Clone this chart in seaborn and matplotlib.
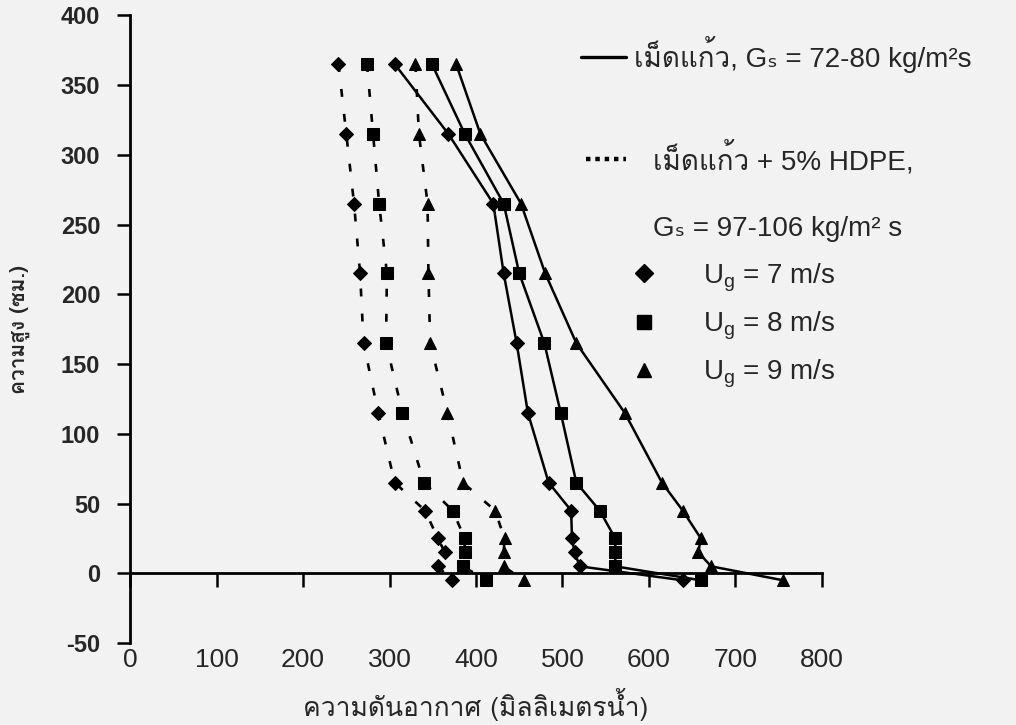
import matplotlib
matplotlib.use("Agg")
import matplotlib.pyplot as plt
from matplotlib import font_manager, ft2font
from matplotlib.lines import Line2D
import seaborn as sns
import pandas as pd

# Heights along the riser (cm) at which the pressure was measured
heights = [365, 315, 265, 215, 165, 115, 65, 45, 25, 15, 5, -5]

# Air pressure (mm water) -- glass beads only
glass_u7 = [306, 368, 420, 432, 447, 460, 484, 510, 511, 514, 520, 639]
glass_u8 = [349, 387, 432, 450, 479, 498, 516, 543, 561, 561, 561, 660]
glass_u9 = [377, 405, 452, 480, 516, 572, 615, 639, 660, 657, 672, 755]

# Air pressure (mm water) -- glass beads + 5% HDPE
hdpe_u7 = [241, 250, 259, 266, 270, 287, 306, 341, 356, 364, 356, 372]
hdpe_u8 = [274, 281, 288, 297, 296, 315, 340, 373, 387, 387, 385, 412]
hdpe_u9 = [330, 334, 344, 345, 347, 367, 385, 422, 433, 432, 432, 455]

x_ticks = [0, 100, 200, 300, 400, 500, 600, 700, 800]
y_ticks = [-50, 0, 50, 100, 150, 200, 250, 300, 350, 400]

x_title = "ความดันอากาศ (มิลลิเมตรน้ำ)"
y_title = "ความสูง (ซม.)"
legend_solid = "เม็ดแก้ว, G\u209b = 72-80 kg/m\u00b2s"
legend_dotted = "เม็ดแก้ว + 5% HDPE,"
legend_dotted_rate = "G\u209b = 97-106 kg/m\u00b2 s"
speed_labels = ["U$_\\mathregular{g}$ = 7 m/s", "U$_\\mathregular{g}$ = 8 m/s",
                "U$_\\mathregular{g}$ = 9 m/s"]


def find_thai_family():
    preferred = []
    others = []
    for f in font_manager.fontManager.ttflist:
        try:
            cmap = ft2font.FT2Font(f.fname).get_charmap()
        except Exception:
            continue
        if 0x0E01 in cmap and 0x0E49 in cmap:
            if "Thai" in f.name or "Loma" in f.name or "Garuda" in f.name:
                preferred.append(f.name)
            else:
                others.append(f.name)
    for name in preferred + others:
        return name
    return "DejaVu Sans"


sns.set_theme(style="white")
thai = find_thai_family()
plt.rcParams["font.family"] = ["Liberation Sans", thai, "DejaVu Sans"]
plt.rcParams["mathtext.fontset"] = "custom"
plt.rcParams["mathtext.rm"] = "Liberation Sans"
plt.rcParams["mathtext.it"] = "Liberation Sans"

rows = []
series = [
    ("glass", "u7", glass_u7), ("glass", "u8", glass_u8), ("glass", "u9", glass_u9),
    ("hdpe", "u7", hdpe_u7), ("hdpe", "u8", hdpe_u8), ("hdpe", "u9", hdpe_u9),
]
for mat, ug, vals in series:
    for h, p in zip(heights, vals):
        rows.append({"material": mat, "ug": ug, "pressure": p, "height": h})
df = pd.DataFrame(rows)

bg = "#f2f2f2"
fig = plt.figure(figsize=(10.16, 7.25), dpi=100, facecolor=bg)
ax = fig.add_axes([0.128, 0.113, 0.681, 0.866])
ax.set_facecolor(bg)

markers = {"u7": "D", "u8": "s", "u9": "^"}
msizes = {"u7": 7.5, "u8": 8, "u9": 8.5}
for (mat, ug), sub in df.groupby(["material", "ug"], sort=False):
    if mat == "glass":
        ls, lw = "-", 1.8
    else:
        ls, lw = (0, (3.0, 6.5)), 1.9
    sns.lineplot(data=sub, x="pressure", y="height", ax=ax, sort=False,
                 estimator=None, color="black", linestyle=ls, linewidth=lw,
                 marker=markers[ug], markersize=msizes[ug],
                 markeredgecolor="black", markerfacecolor="black", legend=False)

# Axis lines cross at the origin; position them before styling the ticks
for side in ("top", "right"):
    ax.spines[side].set_visible(False)
ax.spines["bottom"].set_position(("data", 0))
ax.spines["left"].set_position(("data", 0))
for side in ("bottom", "left"):
    ax.spines[side].set_color("black")
    ax.spines[side].set_linewidth(2.0)

ax.set_xlim(0, 800)
ax.set_ylim(-50, 400)
ax.set_xticks(x_ticks)
ax.set_yticks(y_ticks)
ax.set_xticklabels([str(v) for v in x_ticks], fontsize=19)
ax.set_yticklabels([str(v) for v in y_ticks], fontsize=17, fontweight="bold")

ax.tick_params(axis="x", direction="out", length=10, width=1.8, color="black",
               pad=44, bottom=True)
ax.tick_params(axis="y", direction="out", length=9.5, width=1.8, color="black",
               pad=12, left=True)

ax.set_xlabel(x_title, fontsize=19, family=[thai, "DejaVu Sans"])
ax.set_ylabel(y_title, fontsize=15, fontweight="bold", family=[thai, "DejaVu Sans"])
ax.xaxis.set_label_coords(0.5, -0.072)
ax.yaxis.set_label_coords(-0.145, 0.5)

legend_font = {"family": ["Liberation Sans", thai, "DejaVu Sans"], "size": 20}

leg_solid = ax.legend(
    [Line2D([], [], color="black", linestyle="-", linewidth=2.4)], [legend_solid],
    loc="upper left", bbox_to_anchor=(0.616, 1.007), frameon=False,
    prop=legend_font, handlelength=1.6, handletextpad=0.3)
ax.add_artist(leg_solid)

leg_dotted = ax.legend(
    [Line2D([], [], color="black", linestyle=(0, (1.0, 1.1)), linewidth=3.2),
     Line2D([], [], linestyle="none")],
    [legend_dotted, legend_dotted_rate],
    loc="upper left", bbox_to_anchor=(0.623, 0.840), frameon=False,
    prop=legend_font, handlelength=1.45, handletextpad=0.95, labelspacing=1.46)
ax.add_artist(leg_dotted)

marker_handles = [
    Line2D([], [], color="black", linestyle="none", marker="D", markersize=9),
    Line2D([], [], color="black", linestyle="none", marker="s", markersize=10),
    Line2D([], [], color="black", linestyle="none", marker="^", markersize=10),
]
ax.legend(marker_handles, speed_labels, loc="upper left",
          bbox_to_anchor=(0.687, 0.648), frameon=False, prop=legend_font,
          handlelength=1.0, handletextpad=1.6, labelspacing=0.58)

fig.savefig("out.png", dpi=100, facecolor=bg)
